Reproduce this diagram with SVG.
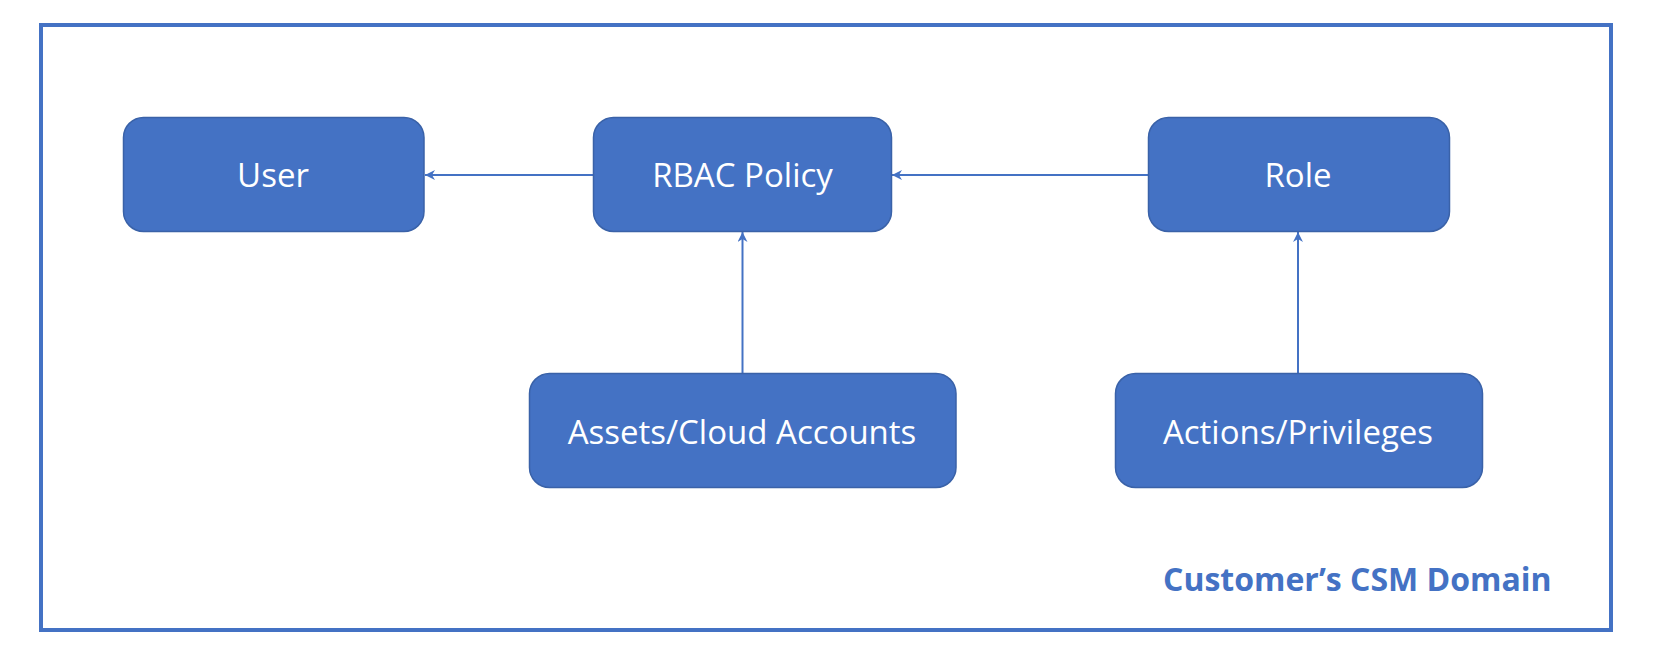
<svg xmlns="http://www.w3.org/2000/svg" width="1662" height="663" viewBox="0 0 1662 663">
<style>
.node rect{fill:#4472C4;stroke:#3A62A8;stroke-width:1.5}
.node text{fill:#ffffff;font-family:"Open Sans","Noto Sans",sans-serif;font-size:33px;text-anchor:middle}
.conn{stroke:#4472C4;stroke-width:2;fill:none;marker-end:url(#arr)}
.label{fill:#4472C4;font-family:"Open Sans","Noto Sans",sans-serif;font-size:32px;font-weight:bold}
</style>
<defs>
<marker id="arr" viewBox="0 0 10 10" refX="10" refY="5" markerWidth="5" markerHeight="5" orient="auto" markerUnits="strokeWidth">
<path d="M0,0 L10,5 L0,10 L3,5 Z" fill="#4472C4"/>
</marker>
</defs>
<rect x="0" y="0" width="1662" height="663" fill="#ffffff"/>
<rect id="frame" x="41" y="25" width="1570" height="605" fill="none" stroke="#4472C4" stroke-width="4"/>
<g id="connectors">
<line class="conn" x1="593" y1="175" x2="425" y2="175"/>
<line class="conn" x1="1148" y1="175" x2="892" y2="175"/>
<line class="conn" x1="742.5" y1="373" x2="742.5" y2="232"/>
<line class="conn" x1="1298" y1="373" x2="1298" y2="232"/>
</g>
<g id="user" class="node"><rect x="123.5" y="117.5" width="300.5" height="114" rx="20"/><text x="273" y="187">User</text></g>
<g id="rbac" class="node"><rect x="593.5" y="117.5" width="298" height="114" rx="20"/><text x="742.5" y="187">RBAC Policy</text></g>
<g id="role" class="node"><rect x="1148.5" y="117.5" width="301" height="114" rx="20"/><text x="1298" y="187">Role</text></g>
<g id="assets" class="node"><rect x="529.5" y="373.5" width="426.5" height="114" rx="20"/><text x="742" y="444">Assets/Cloud Accounts</text></g>
<g id="actions" class="node"><rect x="1115.5" y="373.5" width="367" height="114" rx="20"/><text x="1298" y="444">Actions/Privileges</text></g>
<text class="label" x="1163" y="591">Customer’s CSM Domain</text>
</svg>
